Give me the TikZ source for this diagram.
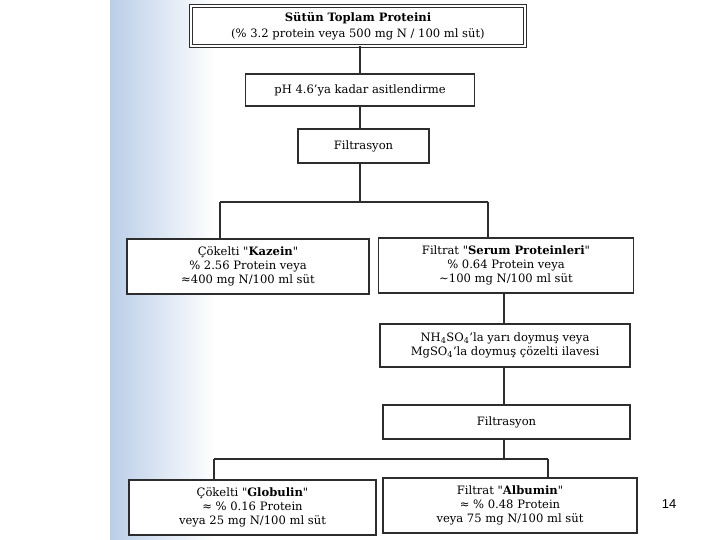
\documentclass[tikz,border=0pt]{standalone}
\usepackage{fontspec}
\setmainfont{DejaVu Serif}
\newfontfamily\slidefont{Liberation Sans}
\usetikzlibrary{positioning,calc}
\definecolor{inkgray}{RGB}{45,45,45}
\definecolor{scanblue}{RGB}{186,206,232}

\begin{document}
\begin{tikzpicture}[x=1bp,y=-1bp,
  stepbox/.style={draw=inkgray,line width=1.1bp,fill=white,align=center,inner sep=0pt,font=\fontsize{11.6}{14}\selectfont},
  link/.style={draw=inkgray,line width=1.1bp}]
\useasboundingbox (0,0) rectangle (720,540);
\fill[white] (0,0) rectangle (720,540);
% scanned page edge
\shade[left color=scanblue,right color=white] (110,0) rectangle (215,540);
% boxes
\node[stepbox,double,line width=.9bp,double distance=1.8bp,minimum width=334bp,minimum height=40bp] (total) at (358,26) {\textbf{Sütün Toplam Proteini}\\[2bp](\% 3.2 protein veya 500 mg N / 100 ml süt)};
\node[stepbox,minimum width=229bp,minimum height=32bp] (acid) at (360,90) {pH 4.6'ya kadar asitlendirme};
\node[stepbox,minimum width=131bp,minimum height=34bp] (filt1) at (363.5,146) {Filtrasyon};
\node[stepbox,minimum width=242bp,minimum height=55bp] (kazein) at (248,266.5) {Çökelti \textquotedbl\textbf{Kazein}\textquotedbl\\\% 2.56 Protein veya\\≈400 mg N/100 ml süt};
\node[stepbox,minimum width=255bp,minimum height=55bp] (serum) at (506,265.5) {Filtrat \textquotedbl\textbf{Serum Proteinleri}\textquotedbl\\\% 0.64 Protein veya\\∼100 mg N/100 ml süt};
\node[stepbox,minimum width=250bp,minimum height=43bp] (salt) at (505,345.5) {NH\textsubscript{4}SO\textsubscript{4}'la yarı doymuş veya\\MgSO\textsubscript{4}'la doymuş çözelti ilavesi};
\node[stepbox,minimum width=247bp,minimum height=34bp] (filt2) at (506.5,422) {Filtrasyon};
\node[stepbox,minimum width=247bp,minimum height=55bp] (globulin) at (252.5,507.5) {Çökelti \textquotedbl\textbf{Globulin}\textquotedbl\\≈ \% 0.16 Protein\\veya 25 mg N/100 ml süt};
\node[stepbox,minimum width=254bp,minimum height=55bp] (albumin) at (510,505.5) {Filtrat \textquotedbl\textbf{Albumin}\textquotedbl\\≈ \% 0.48 Protein\\veya 75 mg N/100 ml süt};
\node[font=\slidefont\fontsize{13}{15}\selectfont] (pagenum) at (669,504) {14};
% branch points
\coordinate (split1) at (360,202);
\coordinate (k1) at (220,202);
\coordinate (s1) at (488,202);
\coordinate (split2) at (504,459);
\coordinate (g1) at (214,459);
\coordinate (a1) at (548,459);
% connectors
\draw[link] (acid.north |- total.south) -- (acid.north);
\draw[link] (acid.south) -- (acid.south |- filt1.north);
\draw[link] (split1 |- filt1.south) -- (split1);
\draw[link] (k1) -- (s1);
\draw[link] (split2 |- serum.south) -- (split2 |- salt.north);
\draw[link] (split2 |- salt.south) -- (split2 |- filt2.north);
\draw[link] (split2 |- filt2.south) -- (split2);
\draw[link] (g1) -- (a1);
\foreach \c/\b in {k1/kazein,s1/serum,g1/globulin,a1/albumin}{\draw[link] (\c) -- (\c |- \b.north);}
\end{tikzpicture}
\end{document}
